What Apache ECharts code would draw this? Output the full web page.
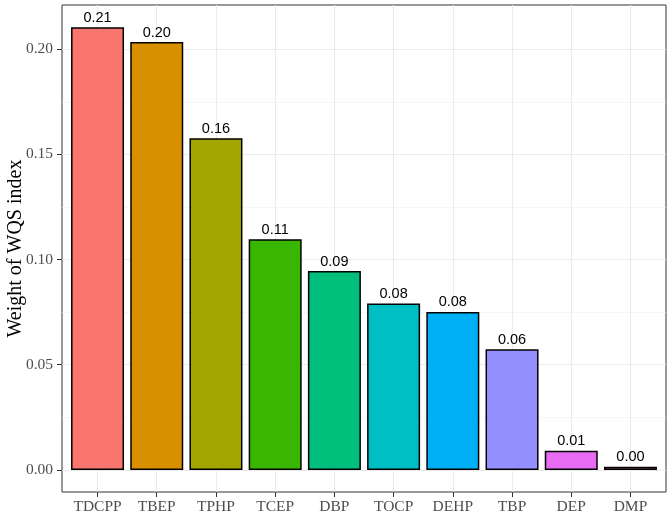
<!DOCTYPE html>
<html>
<head>
<meta charset="utf-8">
<script src="https://cdn.jsdelivr.net/npm/echarts@6/dist/echarts.min.js"></script>
<style>html,body{margin:0;padding:0;background:#fff}#c{width:669px;height:516px}</style>
</head>
<body>
<div id="c"></div>
<script>
const categories = ['TDCPP','TBEP','TPHP','TCEP','DBP','TOCP','DEHP','TBP','DEP','DMP'];
const weights = [0.2104, 0.2034, 0.1577, 0.1096, 0.0945, 0.0791, 0.0751, 0.0574, 0.0091, 0.0015];
const barColors = ['#F8766D','#D89000','#A3A500','#39B600','#00BF7D','#00BFC4','#00B0F6','#9590FF','#E76BF3','#FF62BC'];
const yMajorTicks = [0, 0.05, 0.10, 0.15, 0.20];
const yMinorTicks = [0.025, 0.075, 0.125, 0.175];
const yMin = -0.0105, yMax = 0.221;
const xIdx = categories.map((c, i) => i);

const chart = echarts.init(document.getElementById('c'), null, {renderer: 'canvas'});
chart.setOption({
  animation: false,
  backgroundColor: '#fff',
  grid: {left: 62, top: 5, right: 3, bottom: 24, show: true, borderColor: '#333', borderWidth: 1, containLabel: false, outerBoundsMode: 'none'},
  xAxis: {
    type: 'value', min: -0.6, max: 9.6,
    axisLine: {show: false, onZero: false},
    axisTick: {show: true, customValues: xIdx, length: 5, lineStyle: {color: '#333', width: 1}},
    axisLabel: {customValues: xIdx, formatter: v => categories[Math.round(v)] || '', fontFamily: 'Liberation Serif', fontSize: 15.5, color: '#4d4d4d', margin: 7},
    splitLine: {show: true, lineStyle: {color: '#ebebeb', width: 1.1}}
  },
  yAxis: [{
    type: 'value', min: yMin, max: yMax,
    name: 'Weight of WQS index', nameLocation: 'middle', nameGap: 36, nameMoveOverlap: false,
    nameTextStyle: {fontFamily: 'Liberation Serif', fontSize: 20, color: '#000'},
    axisLine: {show: false, onZero: false},
    axisTick: {show: true, customValues: yMajorTicks, length: 5, lineStyle: {color: '#333', width: 1}},
    axisLabel: {customValues: yMajorTicks, formatter: v => v.toFixed(2), fontFamily: 'Liberation Serif', fontSize: 15.5, color: '#4d4d4d', margin: 9},
    splitLine: {show: true, lineStyle: {color: '#ebebeb', width: 1.1}}
  }, {
    type: 'value', min: yMin, max: yMax, position: 'left',
    axisLine: {show: false, onZero: false},
    axisTick: {show: false, customValues: yMinorTicks},
    axisLabel: {show: false, customValues: yMinorTicks},
    splitLine: {show: true, lineStyle: {color: '#f0f0f0', width: 0.6}}
  }],
  series: [{
    type: 'bar',
    yAxisIndex: 0,
    barWidth: 53,
    data: categories.map((c, i) => [i, weights[i]]),
    itemStyle: {color: p => barColors[p.dataIndex], borderColor: '#000', borderWidth: 1.5},
    label: {show: true, position: 'top', distance: 2, formatter: p => p.value[1].toFixed(2), fontFamily: 'Liberation Sans', fontSize: 14.5, color: '#000'}
  }]
});
</script>
</body>
</html>
